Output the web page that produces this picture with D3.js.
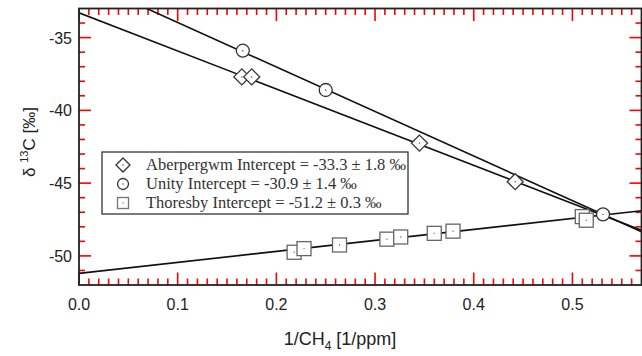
<!DOCTYPE html>
<html>
<head>
<meta charset="utf-8">
<script src="https://cdnjs.cloudflare.com/ajax/libs/d3/7.8.5/d3.min.js"></script>
<style>
  body { margin: 0; background: #fff; }
  svg { display: block; }
</style>
</head>
<body>
<script>
// data
var aberX = [0.165, 0.175, 0.345, 0.442],
    aberY = [-37.7, -37.7, -42.25, -44.9];
var unityX = [0.166, 0.250, 0.531],
    unityY = [-35.9, -38.6, -47.15];
var thorX = [0.218, 0.228, 0.264, 0.312, 0.326, 0.360, 0.379, 0.510, 0.514],
    thorY = [-49.75, -49.5, -49.25, -48.85, -48.7, -48.45, -48.3, -47.3, -47.55];
// fitted lines: intercept, slope
var fitNames = ["Aberpergwm", "Unity", "Thoresby"],
    fitIntercepts = [-33.3, -30.9, -51.2],
    fitSlopes = [-26.2, -30.6, 7.55],
    fitErrors = ["1.8", "1.4", "0.3"];
var xTicks = [0, 0.1, 0.2, 0.3, 0.4, 0.5],
    yTicks = [-50, -45, -40, -35];

var width = 642, height = 356;
var xMin = 0, xMax = 0.57, yMin = -52, yMax = -33;

var svg = d3.select("body").append("svg")
    .attr("width", width)
    .attr("height", height);

var x = d3.scaleLinear().domain([xMin, xMax]).range([79, 641.5]);
var y = d3.scaleLinear().domain([yMin, yMax]).range([285, 8.5]);

//minor ticks every 0.01 / 1 unit, major every 0.1 / 5 units
var xMinor = d3.range(1, 57).map(function(i){ return i / 100; }).filter(function(v, i){ return (i + 1) % 10 != 0; });
var yMinor = d3.range(yMin + 1, yMax).filter(function(v){ return v % 5 != 0; });

//ticks first, as thin rects, pointing inward on all four sides
var ticks = svg.append("g").attr("fill", "red");
var tw = 1.6;
function xTickMarks(vals, len){
    [y(yMin) - len, y(yMax)].forEach(function(top){
        ticks.selectAll(null).data(vals).enter().append("rect")
            .attr("x", function(d){ return x(d) - tw / 2; })
            .attr("y", top)
            .attr("width", tw).attr("height", len);
    });
}
function yTickMarks(vals, len){
    [x(xMin), x(xMax) - len].forEach(function(left){
        ticks.selectAll(null).data(vals).enter().append("rect")
            .attr("y", function(d){ return y(d) - tw / 2; })
            .attr("x", left)
            .attr("height", tw).attr("width", len);
    });
}
xTickMarks(xMinor, 6.5);
xTickMarks(xTicks, 12.5);
yTickMarks(yMinor, 6);
yTickMarks(yTicks, 12);

svg.append("clipPath").attr("id", "clip")
  .append("rect")
    .attr("x", x(xMin)).attr("y", y(yMax))
    .attr("width", x(xMax) - x(xMin)).attr("height", y(yMin) - y(yMax));

//tick labels
svg.selectAll(".xlab").data(xTicks).enter().append("text")
    .attr("class", "xlab")
    .attr("x", function(d){ return x(d); })
    .attr("y", 310)
    .attr("text-anchor", "middle")
    .attr("font-family", "Liberation Sans, Arial, sans-serif")
    .attr("font-size", 16).attr("fill", "#222")
    .text(function(d){ return d.toFixed(1); });
svg.selectAll(".ylab").data(yTicks).enter().append("text")
    .attr("class", "ylab")
    .attr("x", 72)
    .attr("y", function(d){ return y(d) + 6; })
    .attr("text-anchor", "end")
    .attr("font-family", "Liberation Sans, Arial, sans-serif")
    .attr("font-size", 16).attr("fill", "#222")
    .text(function(d){ return String(d); });

//fit lines
var plot = svg.append("g").attr("clip-path", "url(#clip)");
fitIntercepts.forEach(function(b, i){
    plot.append("line")
        .attr("x1", x(xMin)).attr("y1", y(b))
        .attr("x2", x(xMax)).attr("y2", y(b + fitSlopes[i] * xMax))
        .attr("stroke", "#111").attr("stroke-width", 1.6);
});

//markers
function dot(g, cx, cy, col){
    g.append("circle").attr("cx", cx).attr("cy", cy).attr("r", 0.7).attr("fill", col);
}
function diamond(g, cx, cy, r, col){
    g.append("path")
        .attr("d", "M" + cx + "," + (cy - r) + "L" + (cx + r) + "," + cy + "L" + cx + "," + (cy + r) + "L" + (cx - r) + "," + cy + "Z")
        .attr("fill", "#fff").attr("stroke", col).attr("stroke-width", 1.3);
    dot(g, cx, cy, col);
}
function circle(g, cx, cy, r, col){
    g.append("circle").attr("cx", cx).attr("cy", cy).attr("r", r)
        .attr("fill", "#fff").attr("stroke", col).attr("stroke-width", 1.3);
    dot(g, cx, cy, col);
}
function square(g, cx, cy, r, col){
    g.append("rect").attr("x", cx - r).attr("y", cy - r).attr("width", 2 * r).attr("height", 2 * r)
        .attr("fill", "#fff").attr("stroke", col).attr("stroke-width", 1.3);
    dot(g, cx, cy, col);
}

var marks = svg.append("g");
thorX.forEach(function(v, i){ square(marks, x(v), y(thorY[i]), 7, "#666"); });
aberX.forEach(function(v, i){ diamond(marks, x(v), y(aberY[i]), 8, "#333"); });
unityX.forEach(function(v, i){ circle(marks, x(v), y(unityY[i]), 6.5, "#333"); });

//legend
var lg = svg.append("g").attr("transform", "translate(102,152)");
lg.append("rect").attr("width", 306).attr("height", 62)
    .attr("fill", "#fff").attr("stroke", "#333").attr("stroke-width", 1.3);
var markFns = [diamond, circle, square],
    markR = [7, 5.5, 5.5],
    markCol = ["#333", "#333", "#777"];
fitNames.forEach(function(n, i){
    var cy = 13 + i * 19;
    markFns[i](lg, 21, cy, markR[i], markCol[i]);
    lg.append("text")
        .attr("x", 44).attr("y", cy + 5)
        .attr("font-family", "Liberation Serif, Times New Roman, serif")
        .attr("font-size", 16.5).attr("fill", "#333")
        .text(n + " Intercept = " + fitIntercepts[i].toFixed(1) + " \u00b1 " + fitErrors[i] + " \u2030");
});

//axis titles
var xt = svg.append("text")
    .attr("x", 340).attr("y", 345)
    .attr("text-anchor", "middle")
    .attr("font-family", "Liberation Sans, Arial, sans-serif")
    .attr("font-size", 18).attr("fill", "#222");
xt.append("tspan").text("1/CH");
xt.append("tspan").attr("font-size", 12).attr("dy", 5).text("4");
xt.append("tspan").attr("dy", -5).text(" [1/ppm]");

var yt = svg.append("text")
    .attr("transform", "translate(35,142) rotate(-90)")
    .attr("text-anchor", "middle")
    .attr("font-family", "Liberation Sans, Arial, sans-serif")
    .attr("font-size", 17).attr("fill", "#222");
yt.append("tspan").text("\u03b4 ");
yt.append("tspan").attr("font-size", 11).attr("dy", -7).text("13");
yt.append("tspan").attr("dy", 7).text("C [\u2030]");

//frame
svg.append("rect")
    .attr("x", x(xMin)).attr("y", y(yMax))
    .attr("width", x(xMax) - x(xMin)).attr("height", y(yMin) - y(yMax))
    .attr("fill", "none").attr("stroke", "#222").attr("stroke-width", 1.8);
</script>
</body>
</html>
